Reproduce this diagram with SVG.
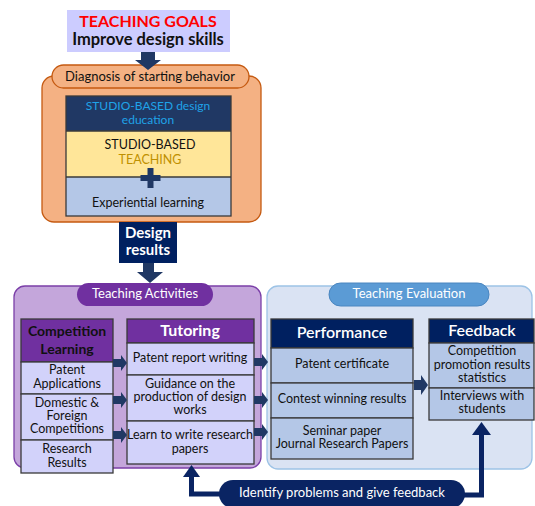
<svg xmlns="http://www.w3.org/2000/svg" width="535" height="506" viewBox="0 0 535 506">
  <style>
    text { font-family: Lato, "Noto Sans", "DejaVu Sans", sans-serif; text-anchor: middle; }
    .b { font-weight: bold; }
    .w { fill: #ffffff; }
    .k { fill: #111111; }
    .cell { stroke: #3a3a3a; stroke-width: 1.3; }
    .lav { fill: #d2d2fa; }
    .blu { fill: #b4c7e7; }
    .navy { fill: #002060; }
    .arr { fill: #203864; }
    .loop { fill: none; stroke: #0a2463; stroke-width: 5; }
  </style>

  <!-- goals -->
  <g id="goals">
    <rect x="67" y="10" width="163" height="42" fill="#ccccff"/>
    <text x="148" y="27" class="b" font-size="16" fill="#ff0000">TEACHING GOALS</text>
    <text x="148" y="45" class="b k" font-size="16.5">Improve design skills</text>
  </g>

  <!-- diagnosis block -->
  <g id="diagnosis">
    <rect x="42" y="76" width="219" height="146" rx="12" fill="#f4b183" stroke="#c55a11" stroke-width="1.3"/>
    <rect x="52" y="65" width="197" height="23" rx="11.5" fill="#f4b183" stroke="#c55a11" stroke-width="1.3"/>
    <text x="150" y="81" class="k" font-size="13">Diagnosis of starting behavior</text>
    <rect x="66" y="96" width="165" height="35" fill="#203864"/>
    <rect x="66" y="131" width="165" height="46" fill="#ffe699"/>
    <rect x="66" y="177" width="165" height="39" fill="#b4c7e7"/>
    <rect x="66" y="96" width="165" height="120" fill="none" class="cell"/>
    <line x1="66" y1="131" x2="231" y2="131" class="cell"/>
    <line x1="66" y1="177" x2="231" y2="177" class="cell"/>
    <text x="148" y="110" font-size="12" fill="#1fa3e8">STUDIO-BASED design</text>
    <text x="148" y="124" font-size="12" fill="#1fa3e8">education</text>
    <text x="150" y="149" class="k" font-size="12.5">STUDIO-BASED</text>
    <text x="150" y="164" font-size="12.5" fill="#bf9000">TEACHING</text>
    <path d="M147.5 168h6v7h7v6h-7v7h-6v-7h-7v-6h7z" fill="#203864"/>
    <text x="148" y="207" class="k" font-size="12.5">Experiential learning</text>
  </g>

  <!-- design results -->
  <g id="design-results">
    <rect x="119" y="222" width="58" height="41" fill="#002060"/>
    <text x="148" y="238" class="b w" font-size="15">Design</text>
    <text x="148" y="255" class="b w" font-size="15">results</text>
  </g>

  <!-- teaching activities -->
  <g id="activities">
    <rect x="14" y="286" width="247" height="182" rx="11" fill="#c4a6db" stroke="#7b3fa8" stroke-width="1.3"/>
    <rect x="77" y="283" width="136" height="23" rx="11.5" fill="#7030a0"/>
    <text x="145" y="298" class="w" font-size="13">Teaching Activities</text>
  </g>

  <g id="competition-learning">
    <rect x="21" y="319" width="92" height="43" fill="#7030a0" class="cell"/>
    <rect x="21" y="362" width="92" height="32" class="lav cell"/>
    <rect x="21" y="394" width="92" height="46" class="lav cell"/>
    <rect x="21" y="440" width="92" height="33" class="lav cell"/>
    <text x="67" y="336" class="b k" font-size="14">Competition</text>
    <text x="67" y="354" class="b k" font-size="14">Learning</text>
    <text x="67" y="374" class="k" font-size="12.5">Patent</text>
    <text x="67" y="388" class="k" font-size="12.5">Applications</text>
    <text x="67" y="407" class="k" font-size="12.5">Domestic &amp;</text>
    <text x="67" y="420" class="k" font-size="12.5">Foreign</text>
    <text x="67" y="433" class="k" font-size="12.5">Competitions</text>
    <text x="67" y="453" class="k" font-size="12.5">Research</text>
    <text x="67" y="467" class="k" font-size="12.5">Results</text>
  </g>

  <g id="tutoring">
    <rect x="127" y="319" width="127" height="24" fill="#7030a0" class="cell"/>
    <rect x="127" y="343" width="127" height="32" class="lav cell"/>
    <rect x="127" y="375" width="127" height="46" class="lav cell"/>
    <rect x="127" y="421" width="127" height="43" class="lav cell"/>
    <text x="190" y="336" class="b w" font-size="16">Tutoring</text>
    <text x="190" y="362" class="k" font-size="12.5">Patent report writing</text>
    <text x="190" y="388" class="k" font-size="12.5">Guidance on the</text>
    <text x="190" y="401" class="k" font-size="12.5">production of design</text>
    <text x="190" y="414" class="k" font-size="12.5">works</text>
    <text x="190" y="439" class="k" font-size="12.5">Learn to write research</text>
    <text x="190" y="453" class="k" font-size="12.5">papers</text>
  </g>

  <!-- teaching evaluation -->
  <g id="evaluation">
    <rect x="267" y="286" width="265" height="183" rx="11" fill="#dae3f3" stroke="#9dc3e6" stroke-width="1.3"/>
    <rect x="329" y="283" width="160" height="23" rx="11.5" fill="#5b9bd5" stroke="#4a86c0" stroke-width="1"/>
    <text x="409" y="298" class="w" font-size="13">Teaching Evaluation</text>
  </g>

  <g id="performance">
    <rect x="271" y="319" width="142" height="29" class="navy cell"/>
    <rect x="271" y="348" width="142" height="35" class="blu cell"/>
    <rect x="271" y="383" width="142" height="35" class="blu cell"/>
    <rect x="271" y="418" width="142" height="41" class="blu cell"/>
    <text x="342" y="338" class="w" font-size="16" font-weight="600">Performance</text>
    <text x="342" y="368" class="k" font-size="12.5">Patent certificate</text>
    <text x="342" y="403" class="k" font-size="12.5">Contest winning results</text>
    <text x="342" y="435" class="k" font-size="12.5">Seminar paper</text>
    <text x="342" y="448" class="k" font-size="12.5">Journal Research Papers</text>
  </g>

  <g id="feedback">
    <rect x="429" y="319" width="105" height="24" class="navy cell"/>
    <rect x="429" y="343" width="105" height="45" class="blu cell"/>
    <rect x="429" y="388" width="105" height="32" class="blu cell"/>
    <text x="482" y="336" class="w" font-size="16" font-weight="600">Feedback</text>
    <text x="482" y="355" class="k" font-size="12.5">Competition</text>
    <text x="482" y="369" class="k" font-size="12.5">promotion results</text>
    <text x="482" y="382" class="k" font-size="12.5">statistics</text>
    <text x="482" y="400" class="k" font-size="12.5">Interviews with</text>
    <text x="482" y="413" class="k" font-size="12.5">students</text>
  </g>

  <g id="identify">
    <rect x="219" y="480" width="246" height="28" rx="14" fill="#0a2463"/>
    <text x="342" y="497" class="w" font-size="13">Identify problems and give feedback</text>
  </g>

  <!-- connectors -->
  <g id="connectors">
    <!-- block arrows down -->
    <path d="M141 52h14v8h6l-13 10l-13 -10h6z" class="arr"/>
    <path d="M143 263h11v9h9l-13 11l-13 -11h6z" class="arr"/>
    <!-- competition learning to tutoring -->
    <path d="M113 359h8v-4l6 8l-6 8v-4h-8z" class="arr"/>
    <path d="M113 396h8v-4l6 8l-6 8v-4h-8z" class="arr"/>
    <path d="M113 431h8v-4l6 8l-6 8v-4h-8z" class="arr"/>
    <!-- tutoring to performance -->
    <path d="M254 358h8v-4l6 8l-6 8v-4h-8z" class="arr"/>
    <path d="M254 396h8v-4l6 8l-6 8v-4h-8z" class="arr"/>
    <path d="M254 428h8v-4l6 8l-6 8v-4h-8z" class="arr"/>
    <!-- performance to feedback -->
    <path d="M414 380h7v-5l7 10l-7 10v-5h-7z" class="arr"/>
    <!-- feedback loop -->
    <path d="M221 494H191.5V476" class="loop"/>
    <path d="M183 477L191.5 465L200 477z" fill="#0a2463"/>
    <path d="M463 495H481.5V434" class="loop"/>
    <path d="M472 435L481.5 422L491 435z" fill="#0a2463"/>
  </g>
</svg>
